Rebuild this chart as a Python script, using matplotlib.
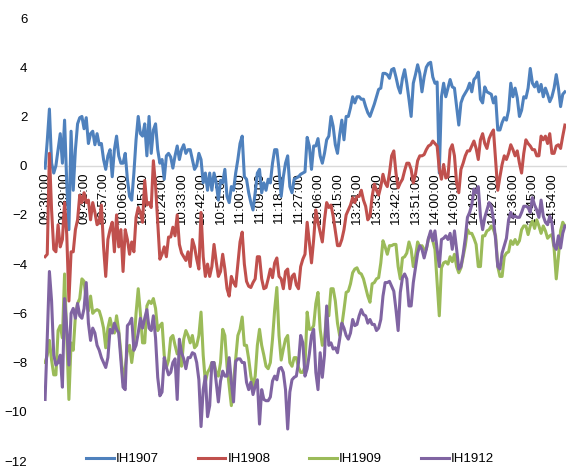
import pandas as pd
import matplotlib.pyplot as plt

plt.rcParams["font.family"] = ["Liberation Sans", "DejaVu Sans"]
plt.rcParams["font.size"] = 9.5

# category axis: one point per minute, morning and afternoon sessions
am = pd.date_range("2019-01-02 09:30", "2019-01-02 11:30", freq="min")
pm = pd.date_range("2019-01-02 13:01", "2019-01-02 15:00", freq="min")
times = [t.strftime("%H:%M:%S") for t in am.append(pm)]

ih1907 = [
    -0.1, 1.0, 2.3, 0.1, -0.3, 0.0, 0.65, 1.3, 0.1, 1.85,
    -0.7, -2.6, 1.4, -1.0, 0.65, 1.7, 1.95, 2.0, 1.5, 1.95,
    0.9, 1.3, 1.4, 0.85, 1.3, 0.85, 0.9, 0.25, -0.15, 0.4,
    0.65, -0.45, 0.65, 1.2, 0.4, 0.1, 0.1, 0.5, -0.55, -1.25,
    -1.4, -0.3, 1.05, 2.0, 1.3, 1.2, 1.7, 0.4, 2.0, 0.5,
    1.45, 1.7, 0.65, 0.1, 0.25, -0.55, 0.4, 0.5, 0.35, -0.1,
    0.4, 0.8, 0.25, 0.65, 0.85, 0.5, 0.65, 0.65, 0.25, -0.15,
    0.0, 0.5, 0.25, -0.7, -0.3, -1.0, -0.3, -1.0, -0.3, -0.7,
    -1.4, -0.6, -0.7, -0.15, -1.25, -1.5, -0.85, -1.0, -0.3, 0.25,
    0.9, 1.2, -0.45, -0.55, -1.1, -1.5, -1.8, -1.1, -0.3, -0.15,
    -1.1, -0.7, -1.0, -0.55, -0.7, 0.1, 0.65, 0.65, -0.15, -1.25,
    -0.45, 0.1, 0.4, -0.85, -1.1, -0.55, -0.5, -0.45, -0.35, -0.3,
    -0.25, 1.15, 0.8, -0.15, 0.8, 0.8, 1.1, 0.4, 0.1, 0.5,
    1.05, 1.2, 2.0, 1.6, 0.85, 0.5, 1.25, 1.85, 1.05, 2.0,
    2.0, 2.35, 2.8, 2.55, 2.8, 2.8, 2.7, 2.7, 2.4, 2.15,
    2.0, 2.25, 2.5, 2.8, 3.1, 3.15, 3.75, 3.75, 3.7, 3.55,
    3.9, 3.95, 3.6, 3.2, 2.95, 3.55, 3.9, 3.35, 2.7, 2.0,
    3.35, 3.7, 4.1, 3.75, 3.0, 3.6, 4.0, 4.15, 4.2, 3.6,
    3.35, 3.4, -0.3, 2.8, 3.35, 2.8, 3.15, 3.5, 3.2, 3.15,
    2.4, 1.65, 2.55, 2.8, 2.95, 3.1, 3.35, 3.0, 3.5, 3.6,
    3.8, 2.7, 2.55, 3.2, 3.0, 2.95, 2.9, 2.55, 2.8, 1.45,
    1.45, 1.75, 1.95, 1.85, 2.25, 3.35, 2.8, 3.15, 2.75, 2.0,
    2.25, 2.8, 2.75, 3.15, 3.95, 3.35, 3.2, 3.4, 3.0, 3.3,
    2.8, 3.15, 2.9, 2.6, 2.8, 3.15, 3.7, 3.15, 2.4, 2.9,
    3.0,
]

ih1908 = [
    -3.7, -3.6, 0.5, -1.8, -3.4, -3.5, -2.4, -3.3, -3.0, -1.5,
    -2.8, -5.5, -3.5, -3.5, -2.6, -2.2, -1.2, -1.5, -1.1, -1.5,
    -1.4, -2.2, -1.5, -1.9, -2.4, -2.3, -1.6, -3.3, -4.5, -3.0,
    -2.6, -2.3, -3.5, -2.0, -3.3, -2.6, -4.3, -2.6, -3.0, -3.6,
    -3.1, -3.5, -2.1, -1.7, -1.9, -2.3, -0.6, -1.6, -1.5, -1.7,
    0.2, -0.8, -2.3, -3.8, -3.6, -3.3, -3.7, -2.9, -2.9, -2.5,
    -2.85, -2.0, -3.2, -3.55, -3.7, -3.85, -3.5, -4.1, -3.0, -3.3,
    -3.8, -4.2, -1.9, -3.7, -4.5, -4.0, -4.5, -4.1, -3.2, -3.9,
    -4.5, -4.3, -3.6, -4.2, -5.0, -5.3, -4.5, -4.75, -4.9, -4.0,
    -3.1, -2.7, -4.0, -4.7, -4.9, -4.95, -4.75, -4.6, -3.7, -3.7,
    -4.6, -5.0, -4.95, -4.6, -4.2, -4.55, -3.95, -3.75, -4.5, -4.6,
    -5.0, -4.3, -4.2, -5.0, -4.5, -4.4, -4.85, -5.0, -4.1, -3.8,
    -3.6, -2.3, -3.1, -3.95, -3.0, -1.8, -2.3, -2.7, -3.1, -2.2,
    -1.5, -1.7, -1.6, -2.05, -2.65, -3.25, -3.25, -3.0, -2.6, -2.0,
    -1.8, -1.6, -1.3, -1.5, -1.25, -1.25, -1.0, -1.4, -1.65, -2.2,
    -2.05, -1.25, -0.75, -1.0, -1.2, -0.85, -0.35, -0.7, -0.85, -0.3,
    0.4, 0.6, -0.3, -0.9, -0.7, -0.55, -0.2, 0.1, 0.1, -0.15,
    -0.7, -0.35, 0.2, 0.4, 0.4, 0.45, 0.65, 0.8, 0.85, 1.0,
    0.9, 0.8, -0.15, -0.55, 0.05, -0.5, -0.45, 0.65, 0.85, 0.4,
    -0.7, -1.1, -0.15, 0.1, 0.4, 0.6, 0.6, 0.8, 1.0, 0.7,
    0.25, 1.05, 1.3, 0.9, 0.7, 1.1, 1.3, 1.45, 0.25, -1.0,
    -0.45, 0.05, 0.4, 0.25, 0.5, 0.85, 0.65, 0.4, 0.6, 0.1,
    -0.3, 0.5, 1.05, 0.9, 0.8, 0.65, 0.65, 0.4, 0.4, 1.2,
    1.05, 1.2, 0.9, 1.3, 0.5, 0.5, 0.8, 0.85, 0.7, 1.2,
    1.65,
]

ih1909 = [
    -8.0, -7.7, -7.1, -7.9, -8.5, -8.5, -6.7, -6.5, -7.0, -4.4,
    -6.9, -9.5, -7.2, -7.5, -6.1, -5.6, -5.4, -4.6, -4.7, -5.5,
    -5.9, -5.3, -6.0, -5.9, -5.85, -5.9, -6.2, -6.6, -7.4, -6.6,
    -6.2, -6.6, -6.8, -6.1, -6.7, -7.6, -8.8, -8.2, -7.5, -7.3,
    -8.0, -7.3, -6.0, -5.0, -6.0, -7.2, -7.2, -5.7, -5.5, -5.6,
    -5.4, -5.8, -6.7, -6.5, -6.4, -7.7, -8.2, -7.9, -7.0, -6.9,
    -7.3, -7.65, -7.6, -8.15, -7.05, -6.7, -6.9, -7.2, -6.9, -7.4,
    -7.3, -6.9, -5.95, -7.7, -8.8, -8.4, -8.25, -8.0, -8.0, -8.4,
    -8.55, -8.0, -6.65, -6.9, -8.15, -8.95, -9.75, -8.8, -7.85, -6.9,
    -6.65, -6.15, -7.3, -7.3, -7.85, -8.55, -8.95, -8.55, -7.3, -6.65,
    -7.3, -7.7, -8.15, -8.25, -8.0, -7.05, -5.85, -4.95, -6.9, -7.9,
    -7.45, -7.05, -6.9, -8.0, -8.15, -7.8, -7.8, -8.2, -8.4, -8.4,
    -8.15, -5.95, -6.65, -6.65, -6.5, -5.6, -5.15, -6.65, -7.3, -7.05,
    -5.95, -6.1, -5.0, -5.0, -5.5, -6.4, -6.9, -6.5, -5.85, -5.15,
    -5.1, -4.8, -4.35, -4.2, -4.15, -4.35, -4.4, -4.6, -4.95, -5.3,
    -5.55, -4.8, -4.75, -4.6, -4.55, -3.95, -3.05, -3.3, -3.6, -3.25,
    -3.25, -3.2, -3.2, -4.1, -4.6, -3.75, -3.7, -3.55, -3.1, -3.4,
    -4.1, -3.7, -3.1, -3.3, -3.25, -3.4, -3.4, -2.95, -2.8, -3.05,
    -3.4, -4.75, -6.1, -4.15, -3.95, -3.9, -4.0, -3.7, -3.9, -3.6,
    -4.1, -4.35, -4.15, -3.7, -3.25, -2.6, -2.75, -2.75, -2.95, -3.2,
    -4.1, -4.1, -2.85, -2.85, -2.65, -2.6, -2.45, -2.6, -2.85, -4.1,
    -4.5, -4.5, -3.7, -3.55, -3.5, -3.05, -3.2, -3.0, -3.2, -3.05,
    -2.6, -2.45, -2.45, -2.8, -2.45, -2.25, -2.55, -2.2, -2.45, -2.75,
    -2.45, -2.65, -2.95, -2.85, -2.8, -3.35, -4.6, -3.7, -2.65, -2.3,
    -2.45,
]

ih1912 = [
    -9.5, -7.0, -4.3, -5.5, -7.7, -8.1, -8.0, -7.7, -9.0, -5.4,
    -6.6, -8.1, -6.0, -5.8, -6.2, -5.6, -6.1, -6.2, -5.8, -4.75,
    -6.4, -7.1, -6.6, -6.8, -7.3, -7.5, -7.8, -8.0, -8.2, -7.8,
    -6.65, -6.8, -6.4, -6.65, -6.8, -7.9, -9.0, -9.1, -6.5, -6.4,
    -6.2, -7.5, -7.3, -6.8, -6.2, -6.6, -6.2, -5.85, -6.6, -6.7,
    -6.1, -7.0, -8.6, -9.35, -9.2, -7.8, -8.2, -8.5, -8.4, -8.0,
    -7.85, -9.5, -7.05, -7.6, -7.85, -8.25, -7.8, -7.8, -7.6, -7.65,
    -8.0, -8.7, -10.6, -9.1, -8.55, -10.2, -9.75, -8.0, -8.0, -8.8,
    -9.6, -8.75, -8.35, -8.55, -8.55, -7.8, -8.8, -9.6, -7.95, -7.85,
    -7.85, -8.0, -8.0, -8.8, -9.1, -8.8, -9.3, -8.95, -8.7, -10.5,
    -9.1, -9.5, -9.55, -9.55, -9.4, -8.75, -8.55, -8.7, -8.25, -8.2,
    -8.4, -9.1, -10.7, -9.2, -8.7, -8.6, -8.55, -8.0, -6.9, -7.2,
    -8.55, -8.25, -7.65, -6.9, -6.65, -8.4, -9.1, -7.6, -8.6, -7.7,
    -5.7, -7.3, -7.2, -7.45, -7.4, -7.6, -7.05, -6.4, -6.6, -6.9,
    -7.05, -6.8, -6.25, -6.5, -6.45, -6.1, -5.85, -6.05, -6.1, -6.4,
    -6.25, -6.45, -6.45, -6.7, -6.6, -6.25, -5.3, -4.75, -4.75, -4.7,
    -4.9, -5.1, -5.85, -6.7, -5.15, -4.55, -4.4, -4.6, -5.7, -5.7,
    -4.75, -4.15, -3.55, -3.25, -3.4, -3.75, -3.4, -2.95, -2.65, -3.05,
    -2.65, -3.4, -4.1, -3.0, -2.95, -2.85, -3.0, -2.75, -3.4, -2.65,
    -3.4, -4.2, -4.1, -3.6, -2.95, -2.1, -1.9, -1.6, -0.95, -1.1,
    -0.85, -2.05, -2.6, -2.1, -1.8, -1.5, -1.65, -2.2, -3.0, -4.1,
    -4.2, -3.55, -3.25, -2.95, -2.2, -1.9, -2.1, -2.05, -2.1, -2.1,
    -1.9, -1.65, -1.65, -1.7, -1.9, -1.3, -1.6, -1.8, -2.1, -1.4,
    -2.05, -2.3, -2.4, -2.05, -2.3, -3.25, -3.4, -2.85, -3.35, -2.75,
    -2.45,
]

series = [
    ("IH1907", ih1907, "#4F81BD"),
    ("IH1908", ih1908, "#C0504D"),
    ("IH1909", ih1909, "#9BBB59"),
    ("IH1912", ih1912, "#8064A2"),
]

fig = plt.figure(figsize=(5.67, 4.67), dpi=100)
ax = fig.add_axes([44 / 567, 6 / 467, 522 / 567, 443 / 467])

x = list(range(len(times)))
for name, values, color in series:
    ax.plot(x, values, color=color, lw=2.2, label=name, solid_joinstyle="round")

ax.set_xlim(-0.5, len(times) - 0.5)
ax.set_ylim(-12, 6)
ax.set_yticks(range(-12, 7, 2))

tick_idx = list(range(0, len(times), 9))
ax.set_xticks(tick_idx)
ax.set_xticklabels([times[k] for k in tick_idx])

for side in ["left", "right", "top"]:
    ax.spines[side].set_visible(False)
ax.spines["bottom"].set_position(("data", 0))
ax.spines["bottom"].set_color("#D9D9D9")
ax.spines["bottom"].set_linewidth(1.0)
ax.spines["bottom"].set_zorder(1)

ax.tick_params(axis="x", length=0, pad=5, labelrotation=90)
ax.tick_params(axis="y", length=0, pad=12)

fig.legend(
    loc="center",
    bbox_to_anchor=(290 / 567, 1 - 459 / 467),
    ncol=4,
    frameon=False,
    handlelength=2.1,
    handletextpad=0.15,
    columnspacing=2.95,
)

fig.savefig("out.png", dpi=100)
